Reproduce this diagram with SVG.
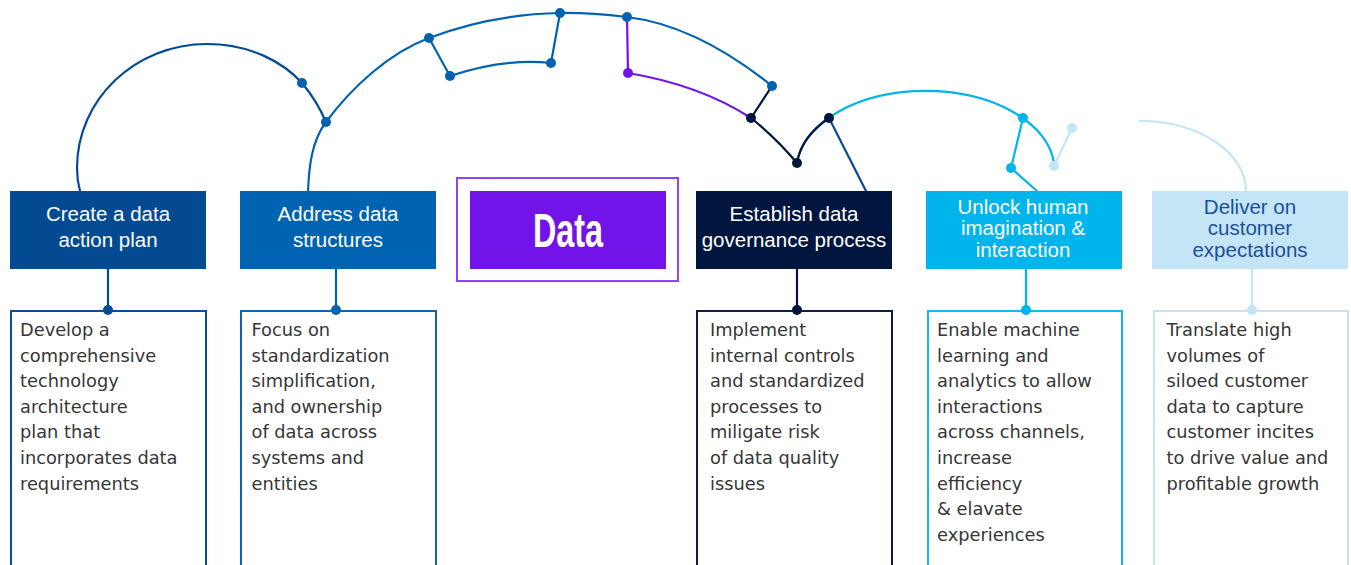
<svg xmlns="http://www.w3.org/2000/svg" width="1351" height="565" viewBox="0 0 1351 565">
<style>
.hd{font-family:"Liberation Sans",Arial,sans-serif;font-size:20.5px;fill:#fff;text-anchor:middle}
.bd{font-family:"DejaVu Sans","Liberation Sans",sans-serif;font-size:17.8px;fill:#363636}
.ln{fill:none;stroke-width:2.2;stroke-linecap:round;stroke-linejoin:round}
.box{fill:#fff;stroke-width:2}
</style>
<rect width="1351" height="565" fill="#fff"/>
<g id="connectors">
  <path class="ln" stroke="#044a93" d="M80,191 Q77,180 77,168 C77,99.5 135.2,44 207,44 C250,44 283,62 302,83 C312,95 320,108 326,122"/>
  <path class="ln" stroke="#0063b1" d="M308,191 C309,167 311.6,141 326,122 C352,87 389,53 429,38 C469,22.6 516,13.9 560,13 C582,12.6 605,14.4 627,17 C679.5,23.3 731,53 772,86"/>
  <path class="ln" stroke="#0063b1" d="M429,38 L450,76 Q505,58 551,63 L560,13"/>
  <path class="ln" stroke="#7213ea" d="M627,17 L628,73 Q700,85 751,118"/>
  <path class="ln" stroke="#00b5eb" d="M797,163 A129,79 0 0 1 1054,163"/>
  <path class="ln" stroke="#00163e" d="M772,86 L751,118 Q776,138 797,163 A129,79 0 0 1 829,118"/>
  <path class="ln" stroke="#0b4a94" d="M829,118 L866,191"/>
  <path class="ln" stroke="#00b5eb" d="M1023,118 L1011,168 L1037,191"/>
  <path class="ln" stroke="#c3e5f6" d="M1054,166 L1072,128"/>
  <path class="ln" stroke="#c3e5f6" d="M1140,121 A106,70 0 0 1 1246,191"/>
  <path class="ln" stroke="#044a93" d="M108,269 V310"/>
  <path class="ln" stroke="#0063b1" d="M336,269 V310"/>
  <path class="ln" stroke="#00163e" d="M797,269 V310"/>
  <path class="ln" stroke="#00b5eb" d="M1026,269 V310"/>
  <path class="ln" stroke="#c3e5f6" d="M1252,269 V310"/>
  <g fill="#0063b1">
    <circle cx="302" cy="83" r="5"/>
    <circle cx="326" cy="122" r="5"/>
    <circle cx="429" cy="38" r="5"/>
    <circle cx="450" cy="76" r="5"/>
    <circle cx="551" cy="63" r="5"/>
    <circle cx="560" cy="13" r="5"/>
    <circle cx="627" cy="17" r="5"/>
    <circle cx="772" cy="86" r="5"/>
  </g>
  <circle cx="628" cy="73" r="5" fill="#7213ea"/>
  <g fill="#00163e">
    <circle cx="751" cy="118" r="5"/>
    <circle cx="797" cy="163" r="5"/>
    <circle cx="829" cy="118" r="5"/>
  </g>
  <g fill="#00b5eb">
    <circle cx="1023" cy="118" r="5"/>
    <circle cx="1011" cy="168" r="5"/>
  </g>
  <g fill="#c3e5f6">
    <circle cx="1054" cy="166" r="5"/>
    <circle cx="1072" cy="128" r="5"/>
  </g>
</g>
<g id="node-action-plan">
  <rect x="10" y="191" width="196" height="78" fill="#044a93"/>
  <text class="hd"><tspan x="108" y="220.5">Create a data</tspan><tspan x="108" y="246.5">action plan</tspan></text>
  <rect class="box" x="11" y="311" width="195" height="300" stroke="#0a4c96"/>
  <circle cx="108" cy="310" r="5" fill="#044a93"/>
  <text class="bd"><tspan x="20" y="336">Develop a</tspan><tspan x="20" y="361.6">comprehensive</tspan><tspan x="20" y="387.2">technology</tspan><tspan x="20" y="412.8">architecture</tspan><tspan x="20" y="438.4">plan that</tspan><tspan x="20" y="464">incorporates data</tspan><tspan x="20" y="489.6">requirements</tspan></text>
</g>
<g id="node-data-structures">
  <rect x="240" y="191" width="196" height="78" fill="#0063b1"/>
  <text class="hd"><tspan x="338" y="220.5">Address data</tspan><tspan x="338" y="246.5">structures</tspan></text>
  <rect class="box" x="241" y="311" width="195" height="300" stroke="#0f66b0"/>
  <circle cx="336" cy="310" r="5" fill="#0063b1"/>
  <text class="bd"><tspan x="251.5" y="336">Focus on</tspan><tspan x="251.5" y="361.6">standardization</tspan><tspan x="251.5" y="387.2">simplification,</tspan><tspan x="251.5" y="412.8">and ownership</tspan><tspan x="251.5" y="438.4">of data across</tspan><tspan x="251.5" y="464">systems and</tspan><tspan x="251.5" y="489.6">entities</tspan></text>
</g>
<g id="node-data">
  <rect x="457" y="178" width="221" height="103" fill="none" stroke="#8f45ef" stroke-width="2"/>
  <rect x="470" y="191" width="196" height="78" fill="#7213ea"/>
  <text transform="translate(568,247) scale(0.66,1)" font-family="Liberation Sans,Arial,sans-serif" font-weight="bold" font-size="49" fill="#fff" text-anchor="middle">Data</text>
</g>
<g id="node-governance">
  <rect x="696" y="191" width="196" height="78" fill="#00163e"/>
  <text class="hd"><tspan x="794" y="220.5">Establish data</tspan><tspan x="794" y="246.5">governance process</tspan></text>
  <rect class="box" x="697" y="311" width="195" height="300" stroke="#0c1c46"/>
  <circle cx="797" cy="310" r="5" fill="#00163e"/>
  <text class="bd"><tspan x="710" y="336">Implement</tspan><tspan x="710" y="361.6">internal controls</tspan><tspan x="710" y="387.2">and standardized</tspan><tspan x="710" y="412.8">processes to</tspan><tspan x="710" y="438.4">miligate risk</tspan><tspan x="710" y="464">of data quality</tspan><tspan x="710" y="489.6">issues</tspan></text>
</g>
<g id="node-imagination">
  <rect x="926" y="191" width="196" height="78" fill="#00b5eb"/>
  <text class="hd"><tspan x="1023" y="213.5">Unlock human</tspan><tspan x="1023" y="235.2">imagination &amp;</tspan><tspan x="1023" y="256.9">interaction</tspan></text>
  <rect class="box" x="928" y="311" width="194" height="300" stroke="#14b8ec"/>
  <circle cx="1026" cy="310" r="5" fill="#00b5eb"/>
  <text class="bd"><tspan x="937" y="336">Enable machine</tspan><tspan x="937" y="361.6">learning and</tspan><tspan x="937" y="387.2">analytics to allow</tspan><tspan x="937" y="412.8">interactions</tspan><tspan x="937" y="438.4">across channels,</tspan><tspan x="937" y="464">increase</tspan><tspan x="937" y="489.6">efficiency</tspan><tspan x="937" y="515.2">&amp; elavate</tspan><tspan x="937" y="540.8">experiences</tspan></text>
</g>
<g id="node-customer">
  <rect x="1152" y="191" width="196" height="78" fill="#c3e5f6"/>
  <text class="hd" style="fill:#1e4e9e"><tspan x="1250" y="213.5">Deliver on</tspan><tspan x="1250" y="235.2">customer</tspan><tspan x="1250" y="256.9">expectations</tspan></text>
  <rect class="box" x="1154" y="311" width="194" height="300" stroke="#c4e4f6"/>
  <circle cx="1252" cy="310" r="5" fill="#c3e5f6"/>
  <text class="bd"><tspan x="1166.5" y="336">Translate high</tspan><tspan x="1166.5" y="361.6">volumes of</tspan><tspan x="1166.5" y="387.2">siloed customer</tspan><tspan x="1166.5" y="412.8">data to capture</tspan><tspan x="1166.5" y="438.4">customer incites</tspan><tspan x="1166.5" y="464">to drive value and</tspan><tspan x="1166.5" y="489.6">profitable growth</tspan></text>
</g>
</svg>
